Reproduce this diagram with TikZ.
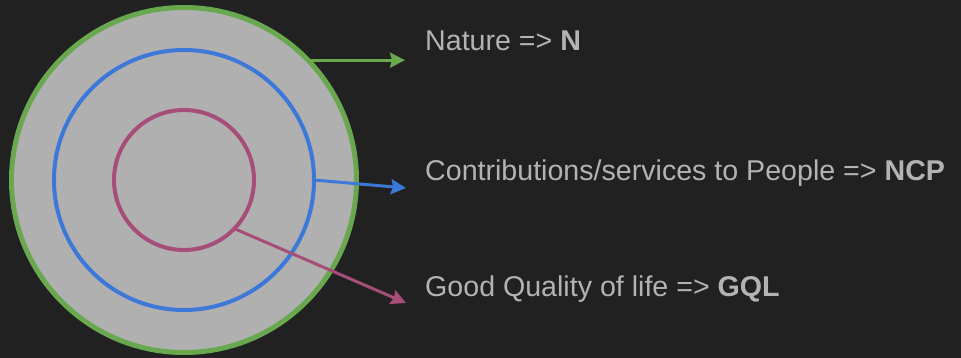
\documentclass[tikz,border=0pt]{standalone}
\usepackage{fontspec}
\setmainfont{Liberation Sans}
\usetikzlibrary{arrows.meta}

\definecolor{bgdark}{HTML}{212121}
\definecolor{discgray}{HTML}{B0B0B0}
\definecolor{natgreen}{HTML}{6AA84F}
\definecolor{ncpblue}{HTML}{3C78D8}
\definecolor{gqlpink}{HTML}{A64D79}
\definecolor{labelgray}{HTML}{B3B3B3}

\tikzset{
  ring/.style={circle, draw, inner sep=0pt, outer sep=0pt},
  pointer/.style={line width=3pt, -{Stealth[length=15pt,width=15pt,inset=2pt]}},
  label text/.style={anchor=base west, inner sep=0pt, text=labelgray,
    font=\fontsize{28.6}{34}\selectfont}
}

\begin{document}
\begin{tikzpicture}[x=1pt,y=-1pt]
					\fill[bgdark] (0,0) rectangle (961,358);
					\useasboundingbox (0,0) rectangle (961,358);
					
					\path (184,180) node[ring, fill=discgray, draw=natgreen, line width=5pt, minimum size=345pt] (nat) {};
					\path (184,180) node[ring, draw=ncpblue, line width=4pt, minimum size=260pt] (ncp) {};
					\path (184,180) node[ring, draw=gqlpink, line width=4pt, minimum size=140pt] (gql) {};
					
					\path (425,51) node[label text] (t1) {Nature => \textbf{N}};
					\path (425,181) node[label text] (t2) {Contributions/services to People => \textbf{NCP}};
					\path (425,296) node[label text] (t3) {Good Quality of life => \textbf{GQL}};
					
					\coordinate (e1) at (405,60);
					\coordinate (e2) at (406,188);
					\coordinate (e3) at (406,303);
					
					\draw[pointer, natgreen] (nat.44.2) -- (nat.44.2 -| e1);
					\draw[pointer, ncpblue] (ncp.-0.4) -- (e2);
					\draw[pointer, gqlpink] (gql.-44.4) -- (e3);
					\end{tikzpicture}
\end{document}
